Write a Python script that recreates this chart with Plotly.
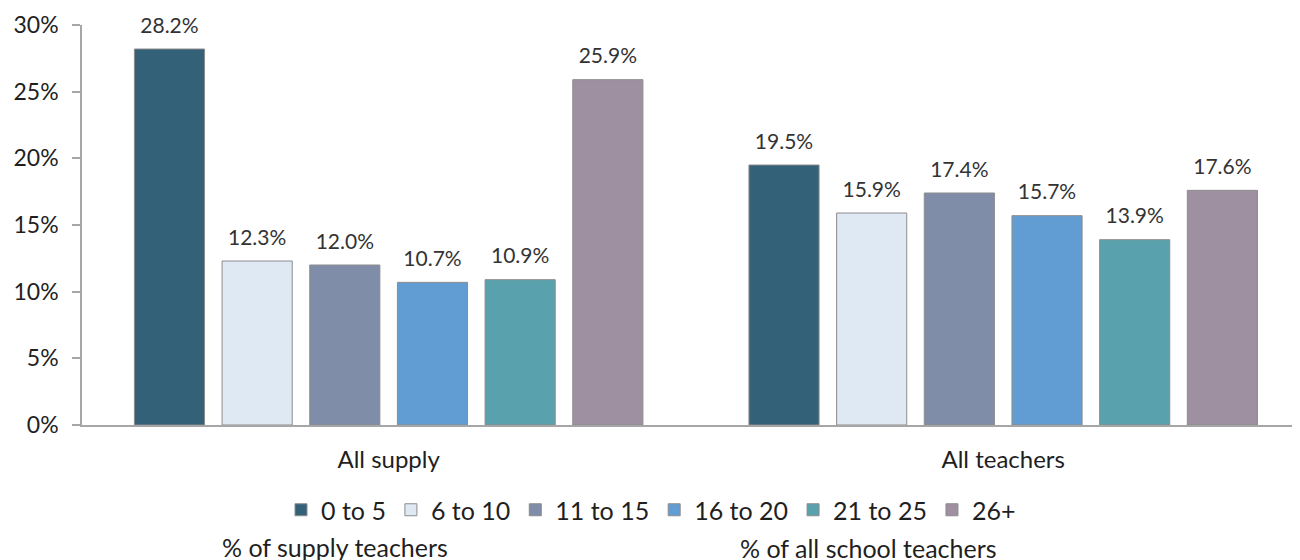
import plotly.graph_objects as go

categories = ["All supply", "All teachers"]
series_names = ["0 to 5", "6 to 10", "11 to 15", "16 to 20", "21 to 25", "26+"]
values = {
    "0 to 5": [28.2, 19.5],
    "6 to 10": [12.3, 15.9],
    "11 to 15": [12.0, 17.4],
    "16 to 20": [10.7, 15.7],
    "21 to 25": [10.9, 13.9],
    "26+": [25.9, 17.6],
}
colors = ["#336178", "#dfe9f4", "#7f8da9", "#619dd2", "#59a2ad", "#9e8fa1"]
y_ticks = [0, 5, 10, 15, 20, 25, 30]
y_tick_labels = ["0%", "5%", "10%", "15%", "20%", "25%", "30%"]
footnotes = ["% of supply teachers", "% of all school teachers"]

FONT = "Lato, 'Open Sans', sans-serif"
OFF = 8  # page body margin
GAP = 0.144

fig = go.Figure()
for name, col in zip(series_names, colors):
    fig.add_trace(go.Bar(
        x=categories, y=values[name], name=name,
        marker=dict(color=col, line=dict(color="#8c8c8c", width=1)),
        hoverinfo="skip",
    ))
# value labels, grouped the same way as the bars
for name in series_names:
    fig.add_trace(go.Scatter(
        x=categories, y=values[name], mode="markers+text", showlegend=False,
        text=[f"{v:.1f}%" for v in values[name]],
        textposition="top center",
        textfont=dict(family=FONT, size=21, color="#333333"),
        marker=dict(size=16, color="rgba(0,0,0,0)"),
        cliponaxis=False, hoverinfo="skip",
    ))

plot_w = 1300 - (82 - OFF)
fig.update_layout(
    width=1300, height=560,
    margin=dict(l=82 - OFF, r=0, t=25 - OFF, b=560 - (25 - OFF) - 400, autoexpand=False),
    paper_bgcolor="white", plot_bgcolor="white",
    barmode="group", bargap=GAP, bargroupgap=0.2,
    scattermode="group", scattergap=GAP,
    font=dict(family=FONT, size=22, color="#1f1f1f"),
    showlegend=True,
    legend=dict(
        orientation="h", xref="container", yref="container",
        x=(651 - OFF) / 1300, xanchor="center", y=1 - (510 - OFF) / 560, yanchor="middle",
        font=dict(family=FONT, size=25, color="#1f1f1f"),
        itemwidth=30, tracegroupgap=0,
    ),
    xaxis=dict(
        type="category", range=[-0.499, 1.496], automargin=False,
        showline=True, linecolor="#a6a6a6", linewidth=1.5,
        ticks="", showgrid=False, zeroline=False,
        tickfont=dict(family=FONT, size=24, color="#1f1f1f"),
        ticklabelstandoff=12,
    ),
    yaxis=dict(
        range=[0, 30], tickvals=y_ticks, ticktext=y_tick_labels, automargin=False,
        showline=True, linecolor="#a6a6a6", linewidth=1.5,
        ticks="outside", ticklen=8, tickcolor="#a6a6a6", tickwidth=1.5,
        showgrid=False, zeroline=False,
        tickfont=dict(family=FONT, size=23, color="#1f1f1f"),
        ticklabelstandoff=9,
    ),
)

fig.add_annotation(text=footnotes[0], xref="paper", yref="paper",
                   x=(335 - 82) / plot_w, y=(425 - 547) / 400,
                   xanchor="center", yanchor="middle", showarrow=False,
                   font=dict(family=FONT, size=25, color="#1f1f1f"))
fig.add_annotation(text=footnotes[1], xref="paper", yref="paper",
                   x=(868 - 82) / plot_w, y=(425 - 548) / 400,
                   xanchor="center", yanchor="middle", showarrow=False,
                   font=dict(family=FONT, size=25, color="#1f1f1f"))

fig.write_html("out.html")
